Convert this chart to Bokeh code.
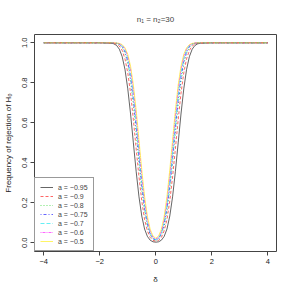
from bokeh.plotting import figure
from bokeh.models import Range1d, FixedTicker, PrintfTickFormatter, Legend, LegendItem
from bokeh.embed import file_html
from bokeh.resources import INLINE

delta = [-4, -3, -2, -1.6, -1.5, -1.4, -1.3, -1.2, -1.1, -1.0, -0.9, -0.8, -0.7, -0.6, -0.5,
         -0.4, -0.3, -0.2, -0.1, 0.0, 0.1, 0.2, 0.3, 0.4, 0.5, 0.6, 0.7, 0.8, 0.9, 1.0,
         1.1, 1.2, 1.3, 1.4, 1.5, 1.6, 2, 3, 4]

a_095 = [1, 1, 1, 0.998, 0.995, 0.987, 0.968, 0.931, 0.867, 0.770, 0.644, 0.500, 0.356, 0.230, 0.134,
         0.069, 0.032, 0.013, 0.005, 0.003, 0.005, 0.013, 0.032, 0.069, 0.134, 0.230, 0.356, 0.500, 0.644, 0.770,
         0.867, 0.931, 0.968, 0.987, 0.995, 0.998, 1, 1, 1]
a_09 = [1, 1, 1, 0.999, 0.998, 0.994, 0.984, 0.962, 0.920, 0.850, 0.748, 0.616, 0.470, 0.330, 0.209,
        0.117, 0.060, 0.027, 0.012, 0.008, 0.012, 0.027, 0.060, 0.117, 0.209, 0.330, 0.470, 0.616, 0.748, 0.850,
        0.920, 0.962, 0.984, 0.994, 0.998, 0.999, 1, 1, 1]
a_08 = [1, 1, 1, 1.000, 0.999, 0.997, 0.991, 0.977, 0.947, 0.893, 0.807, 0.688, 0.545, 0.396, 0.261,
        0.154, 0.081, 0.039, 0.018, 0.011, 0.018, 0.039, 0.081, 0.154, 0.261, 0.396, 0.545, 0.688, 0.807, 0.893,
        0.947, 0.977, 0.991, 0.997, 0.999, 1.000, 1, 1, 1]
a_075 = [1, 1, 1, 1.000, 0.999, 0.998, 0.993, 0.981, 0.955, 0.907, 0.827, 0.714, 0.575, 0.425, 0.286,
         0.173, 0.094, 0.045, 0.021, 0.014, 0.021, 0.045, 0.094, 0.173, 0.286, 0.425, 0.575, 0.714, 0.827, 0.907,
         0.955, 0.981, 0.993, 0.998, 0.999, 1.000, 1, 1, 1]
a_07 = [1, 1, 1, 1.000, 1.000, 0.998, 0.995, 0.986, 0.965, 0.922, 0.851, 0.743, 0.606, 0.454, 0.309,
        0.188, 0.102, 0.050, 0.023, 0.016, 0.023, 0.050, 0.102, 0.188, 0.309, 0.454, 0.606, 0.743, 0.851, 0.922,
        0.965, 0.986, 0.995, 0.998, 1.000, 1.000, 1, 1, 1]
a_06 = [1, 1, 1, 1.000, 1.000, 0.999, 0.996, 0.988, 0.970, 0.933, 0.868, 0.768, 0.635, 0.485, 0.336,
        0.209, 0.117, 0.058, 0.028, 0.019, 0.028, 0.058, 0.117, 0.209, 0.336, 0.485, 0.635, 0.768, 0.868, 0.933,
        0.970, 0.988, 0.996, 0.999, 1.000, 1.000, 1, 1, 1]
a_05 = [1, 1, 1, 1.000, 1.000, 0.999, 0.997, 0.991, 0.975, 0.943, 0.883, 0.790, 0.664, 0.515, 0.365,
        0.233, 0.133, 0.068, 0.034, 0.023, 0.034, 0.068, 0.133, 0.233, 0.365, 0.515, 0.664, 0.790, 0.883, 0.943,
        0.975, 0.991, 0.997, 0.999, 1.000, 1.000, 1, 1, 1]

series = [a_095, a_09, a_08, a_075, a_07, a_06, a_05]
labels = ["a = \u22120.95", "a = \u22120.9", "a = \u22120.8", "a = \u22120.75",
          "a = \u22120.7", "a = \u22120.6", "a = \u22120.5"]
colors = ["#000000", "#FF0000", "#00CD00", "#0000FF", "#00E5EE", "#FF00FF", "#FFEE00"]
dashes = ["solid", "3 2", "1 2", "1 2 3 2", "4 2", "1 1 3 1", "solid"]

x_ticks = [-4, -2, 0, 2, 4]
y_ticks = [0.0, 0.2, 0.4, 0.6, 0.8, 1.0]

FONT = "Liberation Sans"

p = figure(width=294, height=294, output_backend="svg", toolbar_location=None,
           x_range=Range1d(-4.33, 4.31), y_range=Range1d(-0.0435, 1.0415),
           min_border_left=34, min_border_right=18, min_border_top=34, min_border_bottom=43,
           title="n\u2081 = n\u2082=30")

p.title.align = "center"
p.title.text_font = FONT
p.title.text_font_size = "8px"
p.title.text_font_style = "normal"
p.title.standoff = 22

p.grid.visible = False
p.outline_line_color = "#444444"
p.outline_line_width = 1
p.background_fill_color = "white"
p.border_fill_color = "white"

for ax in (p.xaxis[0], p.yaxis[0]):
    ax.axis_line_color = None
    ax.major_tick_line_color = "#444444"
    ax.major_tick_in = 0
    ax.major_tick_out = 4
    ax.minor_tick_line_color = None
    ax.major_label_text_font = FONT
    ax.major_label_text_font_size = "7.5px"
    ax.major_label_text_color = "#222222"
    ax.axis_label_text_font = FONT
    ax.axis_label_text_font_size = "8px"
    ax.axis_label_text_font_style = "normal"
    ax.axis_label_text_color = "#222222"
    ax.major_label_standoff = 3

p.xaxis[0].ticker = FixedTicker(ticks=x_ticks)
p.yaxis[0].ticker = FixedTicker(ticks=y_ticks)
p.yaxis[0].formatter = PrintfTickFormatter(format="%.1f")
p.yaxis[0].major_label_orientation = "vertical"
p.xaxis[0].axis_label = "\u03b4"
p.yaxis[0].axis_label = "Frequency of rejection of H\u2080"
p.xaxis[0].axis_label_standoff = 8
p.yaxis[0].axis_label_standoff = 7

items = []
for ys, lab, col, dsh in zip(series, labels, colors, dashes):
    r = p.line(delta, ys, line_color=col, line_width=1, line_alpha=0.6, line_dash=dsh)
    items.append(LegendItem(label=lab, renderers=[r]))

legend = Legend(items=items, location="bottom_left", margin=0, padding=5, spacing=1,
                label_height=8, glyph_height=8, glyph_width=13, label_standoff=5,
                label_text_font=FONT, label_text_font_size="7px",
                border_line_color="#333333", border_line_width=1,
                background_fill_color="white", background_fill_alpha=1)
p.add_layout(legend, "center")

open("out.html", "w").write(file_html(p, INLINE))
